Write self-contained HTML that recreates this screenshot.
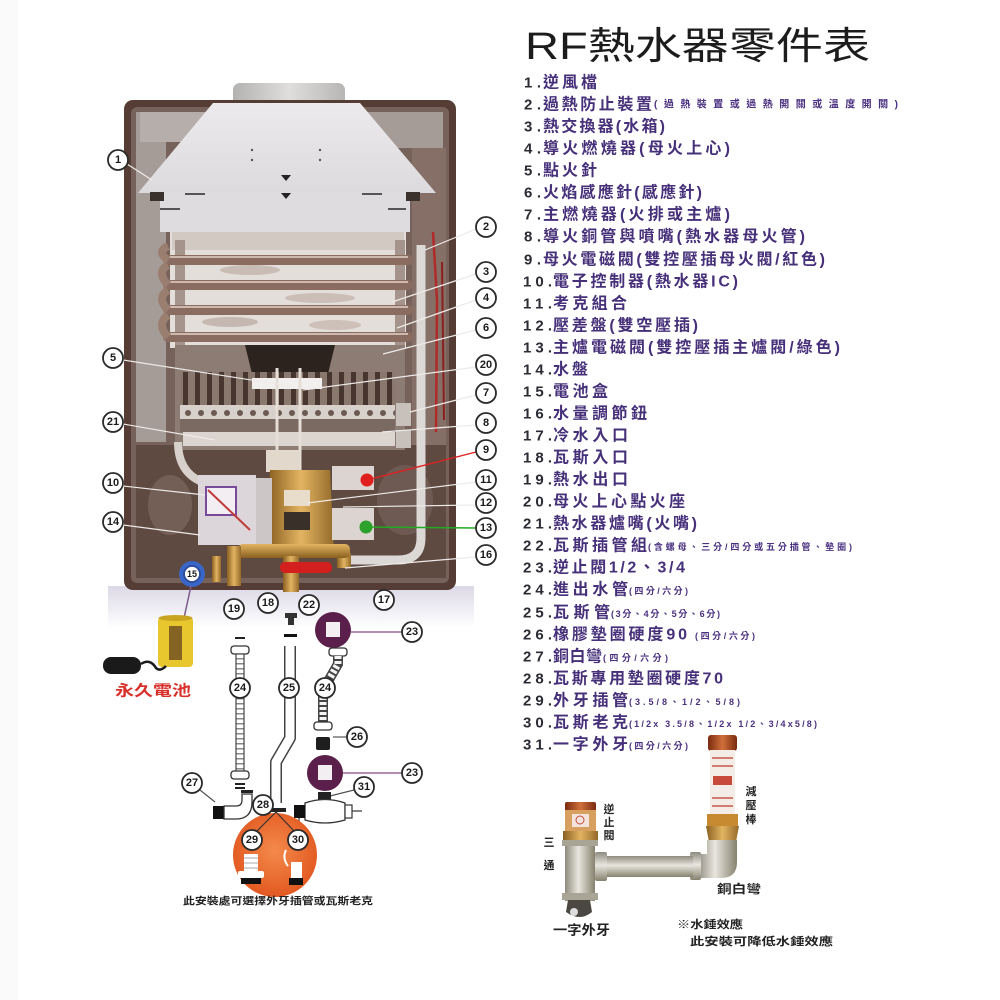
<!DOCTYPE html>
<html><head><meta charset="utf-8">
<style>
html,body{margin:0;padding:0;background:#fff;}
svg{display:block;}
.lb circle{fill:#fff;stroke:#2a2a2a;stroke-width:1.8;}
.lb text{font-family:"Liberation Sans",sans-serif;font-weight:bold;font-size:11px;text-anchor:middle;dominant-baseline:central;fill:#1a1a1a;}
.num{font-family:"Liberation Sans",sans-serif;font-weight:bold;font-size:15px;fill:#2b2b35;dominant-baseline:central;}
.mt{font-family:"Liberation Sans","Noto Sans CJK TC",sans-serif;font-weight:bold;font-size:16px;fill:#46307a;dominant-baseline:central;}
.st{font-family:"Liberation Sans","Noto Sans CJK TC",sans-serif;font-weight:bold;font-size:9px;fill:#4a3080;dominant-baseline:central;}
.cap{font-family:"Liberation Sans","Noto Sans CJK TC",sans-serif;font-weight:bold;fill:#222;dominant-baseline:central;}
.ln{stroke:#eeeae8;stroke-width:1.2;fill:none;}
</style></head>
<body>
<svg width="1000" height="1000" viewBox="0 0 1000 1000" xmlns="http://www.w3.org/2000/svg">
<defs>
<linearGradient id="hood" x1="0" y1="0" x2="0" y2="1"><stop offset="0" stop-color="#eceaec"/><stop offset="1" stop-color="#dcdadd"/></linearGradient>
<linearGradient id="chim" x1="0" y1="0" x2="1" y2="0"><stop offset="0" stop-color="#b4b2b0"/><stop offset="0.5" stop-color="#e0dedc"/><stop offset="1" stop-color="#b8b6b4"/></linearGradient>
<linearGradient id="band" x1="0" y1="0" x2="0" y2="1"><stop offset="0" stop-color="#dcd8e6"/><stop offset="1" stop-color="#ffffff"/></linearGradient>
<radialGradient id="org" cx="0.5" cy="0.45" r="0.6"><stop offset="0" stop-color="#f48a4c"/><stop offset="1" stop-color="#e0541c"/></radialGradient>
<linearGradient id="brass" x1="0" y1="0" x2="1" y2="0"><stop offset="0" stop-color="#8a6020"/><stop offset="0.5" stop-color="#e2b462"/><stop offset="1" stop-color="#946a2a"/></linearGradient>
<linearGradient id="brassv" x1="0" y1="0" x2="0" y2="1"><stop offset="0" stop-color="#e2b462"/><stop offset="1" stop-color="#8a6020"/></linearGradient>
<linearGradient id="silv" x1="0" y1="0" x2="0" y2="1"><stop offset="0" stop-color="#8e8a7e"/><stop offset="0.45" stop-color="#e8e6de"/><stop offset="1" stop-color="#86826f"/></linearGradient>
<linearGradient id="silvh" x1="0" y1="0" x2="1" y2="0"><stop offset="0" stop-color="#8e8a7e"/><stop offset="0.45" stop-color="#e8e6de"/><stop offset="1" stop-color="#86826f"/></linearGradient>
<linearGradient id="copper" x1="0" y1="0" x2="1" y2="0"><stop offset="0" stop-color="#7a2a10"/><stop offset="0.5" stop-color="#d0703a"/><stop offset="1" stop-color="#7a2a10"/></linearGradient>
<pattern id="fins" width="12" height="10" patternUnits="userSpaceOnUse"><rect width="12" height="10" fill="#8a786e"/><rect x="3" width="5" height="10" fill="#46362f"/></pattern>
<pattern id="noz" width="13" height="14" patternUnits="userSpaceOnUse"><rect width="13" height="14" fill="#d8d0cb"/><circle cx="6" cy="7" r="3" fill="#6a5a52"/></pattern>
<pattern id="rib" width="8" height="5" patternUnits="userSpaceOnUse"><rect width="8" height="5" fill="#fff"/><rect y="3" width="8" height="1.5" fill="#8a8a8a"/></pattern>
</defs>

<!-- faint left margin -->
<rect x="0" y="0" width="18" height="1000" fill="#fafafa"/>

<!-- band below body -->
<rect x="108" y="586" width="366" height="42" fill="url(#band)"/>

<!-- chimney -->
<rect x="233" y="83" width="112" height="26" rx="7" fill="url(#chim)"/>

<!-- body -->
<rect x="124" y="100" width="332" height="490" rx="9" fill="#553d35"/>
<rect x="131" y="107" width="318" height="476" rx="6" fill="#76625a"/>
<rect x="136" y="112" width="30" height="330" fill="#a69c97"/>
<rect x="140" y="112" width="70" height="30" fill="#b5aeab"/>
<rect x="365" y="112" width="78" height="36" fill="#a59c98"/>
<rect x="412" y="148" width="34" height="300" fill="#856f66"/>
<rect x="136" y="445" width="310" height="133" fill="#5f4a41"/>
<ellipse cx="170" cy="505" rx="22" ry="30" fill="#745f56"/>
<ellipse cx="405" cy="500" rx="28" ry="35" fill="#6e5a52"/>

<!-- heat exchanger -->
<rect x="170" y="230" width="236" height="118" fill="#e4deda"/>
<ellipse cx="250" cy="270" rx="30" ry="5" fill="#c8bcb4"/>
<ellipse cx="320" cy="298" rx="35" ry="5" fill="#cabeb6"/>
<ellipse cx="230" cy="322" rx="28" ry="5" fill="#c4b8b0"/>
<ellipse cx="335" cy="325" rx="26" ry="5" fill="#ccc0b8"/>
<rect x="172" y="232" width="232" height="18" fill="#d2c9c3"/>
<rect x="175" y="240" width="10" height="108" fill="#a4948b"/>
<rect x="395" y="240" width="10" height="108" fill="#a4948b"/>
<g fill="#8a6c60">
<rect x="163" y="255" width="250" height="10" rx="5"/>
<rect x="163" y="280" width="250" height="10" rx="5"/>
<rect x="163" y="305" width="250" height="10" rx="5"/>
<rect x="163" y="332" width="250" height="10" rx="5"/>
</g>
<g stroke="#cdb9ae" stroke-width="2">
<line x1="168" y1="257" x2="408" y2="257"/><line x1="168" y1="282" x2="408" y2="282"/>
<line x1="168" y1="307" x2="408" y2="307"/><line x1="168" y1="334" x2="408" y2="334"/>
</g>
<g fill="none" stroke="#9a7e70" stroke-width="8">
<path d="M168 246 Q156 252 168 260"/><path d="M168 265 Q156 272 168 285"/><path d="M168 290 Q156 298 168 310"/><path d="M168 315 Q156 324 168 337"/>
</g>

<!-- combustion / burner -->
<rect x="175" y="345" width="230" height="105" fill="#8c7c74"/>
<polygon points="245,345 335,345 327,378 253,378" fill="#2c221e"/>
<rect x="180" y="372" width="215" height="34" fill="url(#fins)"/>
<rect x="180" y="405" width="215" height="14" fill="url(#noz)"/>
<rect x="180" y="419" width="215" height="13" fill="#7a6a62"/>
<rect x="183" y="432" width="212" height="14" fill="#dbd4cf"/>
<rect x="396" y="403" width="15" height="23" fill="#c8c0bb"/>
<rect x="396" y="430" width="15" height="18" fill="#c8c0bb"/>
<rect x="252" y="378" width="70" height="11" fill="#f2f0ef"/>
<line x1="277" y1="368" x2="277" y2="470" stroke="#e6ded6" stroke-width="3"/>
<line x1="300" y1="368" x2="300" y2="470" stroke="#e6ded6" stroke-width="3"/>
<path d="M178 442 Q178 472 202 482" stroke="#d8d1cb" stroke-width="8" fill="none"/>

<!-- gas valve / controls -->
<rect x="266" y="450" width="34" height="22" fill="#e2d8cc"/>
<polygon points="270,470 330,470 334,552 268,552" fill="url(#brass)"/>
<rect x="284" y="490" width="26" height="16" fill="#e8dccb"/>
<rect x="284" y="512" width="26" height="18" fill="#3a302a"/>
<rect x="198" y="475" width="58" height="70" fill="#dcd6da"/>
<rect x="206" y="487" width="30" height="28" fill="#f2eef2" stroke="#7a4a9a" stroke-width="2"/>
<line x1="208" y1="490" x2="250" y2="530" stroke="#c03a3a" stroke-width="2"/>
<rect x="256" y="478" width="16" height="66" fill="#cdc6c6"/>
<rect x="332" y="466" width="42" height="24" fill="#dcd4d0"/>
<circle cx="367" cy="480" r="6.5" fill="#e01e1e"/>
<rect x="332" y="508" width="42" height="32" fill="#dcd4d0"/>
<circle cx="366" cy="527" r="6.5" fill="#2ea02e"/>
<path d="M421 245 L421 538 Q421 560 398 560 L345 560" stroke="#dcd8d5" stroke-width="9" fill="none"/>
<rect x="337" y="553" width="14" height="15" fill="url(#brass)"/>
<rect x="238" y="544" width="112" height="14" rx="5" fill="url(#brassv)"/>
<rect x="283" y="556" width="16" height="36" fill="url(#brass)"/>
<rect x="280" y="562" width="52" height="11" rx="5" fill="#d41f1f"/>
<rect x="227" y="546" width="14" height="40" fill="url(#brass)"/>
<rect x="212" y="556" width="9" height="26" fill="url(#brass)"/>
<path d="M433 232 L437 300 L436 432" stroke="#b02a2a" stroke-width="2.5" fill="none"/>
<path d="M442 262 L444 420" stroke="#8a2020" stroke-width="2" fill="none"/>

<!-- hood -->
<polygon points="213,103 360,103 436,193 138,193" fill="url(#hood)"/>
<rect x="160" y="192" width="250" height="40" fill="#dedcde"/>
<rect x="150" y="192" width="14" height="9" fill="#3a302c"/>
<rect x="406" y="192" width="14" height="9" fill="#3a302c"/>
<polygon points="281,175 291,175 286,181" fill="#222"/>
<polygon points="281,193 291,193 286,199" fill="#222"/>
<g fill="#555"><circle cx="252" cy="150" r="1.2"/><circle cx="252" cy="160" r="1.2"/><circle cx="320" cy="150" r="1.2"/><circle cx="320" cy="160" r="1.2"/>
<rect x="185" y="193" width="20" height="2"/><rect x="362" y="193" width="20" height="2"/><rect x="160" y="208" width="20" height="2"/><rect x="388" y="208" width="18" height="2"/></g>

<!-- blue battery cap 15 -->
<circle cx="192" cy="574" r="13" fill="#3a66c8"/>

<!-- leader lines (inside body: white) -->
<g class="ln">
<line x1="127" y1="164" x2="152" y2="180"/>
<line x1="123" y1="360" x2="290" y2="386"/>
<line x1="123" y1="424" x2="215" y2="440"/>
<line x1="123" y1="486" x2="205" y2="495"/>
<line x1="123" y1="525" x2="200" y2="535"/>
<line x1="476" y1="229" x2="425" y2="250"/>
<line x1="476" y1="274" x2="392" y2="302"/>
<line x1="476" y1="300" x2="397" y2="328"/>
<line x1="476" y1="330" x2="383" y2="354"/>
<line x1="476" y1="367" x2="303" y2="390"/>
<line x1="476" y1="395" x2="410" y2="412"/>
<line x1="476" y1="425" x2="382" y2="432"/>
<line x1="476" y1="482" x2="307" y2="503"/>
<line x1="476" y1="505" x2="343" y2="507"/>
<line x1="476" y1="557" x2="345" y2="568"/>
</g>
<line x1="476" y1="452" x2="367" y2="480" stroke="#d22" stroke-width="1.4"/>
<line x1="476" y1="528" x2="366" y2="527" stroke="#2a2" stroke-width="1.4"/>

<!-- labels on body -->
<g class="lb">
<circle cx="118" cy="160" r="10"/><text x="118" y="160">1</text>
<circle cx="113" cy="358" r="10"/><text x="113" y="358">5</text>
<circle cx="113" cy="422" r="10"/><text x="113" y="422">21</text>
<circle cx="113" cy="483" r="10"/><text x="113" y="483">10</text>
<circle cx="113" cy="522" r="10"/><text x="113" y="522">14</text>
<circle cx="486" cy="227" r="10"/><text x="486" y="227">2</text>
<circle cx="486" cy="272" r="10"/><text x="486" y="272">3</text>
<circle cx="486" cy="298" r="10"/><text x="486" y="298">4</text>
<circle cx="486" cy="328" r="10"/><text x="486" y="328">6</text>
<circle cx="486" cy="365" r="10"/><text x="486" y="365">20</text>
<circle cx="486" cy="393" r="10"/><text x="486" y="393">7</text>
<circle cx="486" cy="423" r="10"/><text x="486" y="423">8</text>
<circle cx="486" cy="450" r="10"/><text x="486" y="450">9</text>
<circle cx="486" cy="480" r="10"/><text x="486" y="480">11</text>
<circle cx="486" cy="503" r="10"/><text x="486" y="503">12</text>
<circle cx="486" cy="528" r="10"/><text x="486" y="528">13</text>
<circle cx="486" cy="555" r="10"/><text x="486" y="555">16</text>
<circle cx="192" cy="574" r="8" style="stroke:#2a4a9a"/><text x="192" y="574" style="font-size:9px">15</text>
<circle cx="234" cy="609" r="10"/><text x="234" y="609">19</text>
<circle cx="268" cy="603" r="10"/><text x="268" y="603">18</text>
<circle cx="309" cy="605" r="10"/><text x="309" y="605">22</text>
<circle cx="384" cy="600" r="10"/><text x="384" y="600">17</text>
</g>

<!-- battery & remote -->
<line x1="191" y1="586" x2="184" y2="618" stroke="#7a5a8a" stroke-width="1.5"/>
<rect x="158" y="617" width="35" height="50" rx="4" fill="#e8c62e"/>
<ellipse cx="175.5" cy="618" rx="17" ry="3" fill="#c9a420"/>
<rect x="169" y="626" width="13" height="34" fill="#6a4a20" opacity="0.8"/>
<rect x="103" y="657" width="38" height="17" rx="8" fill="#1a1a1a"/>
<path d="M141 664 Q150 658 156 668 Q160 672 166 666" stroke="#1a1a1a" stroke-width="2.5" fill="none"/>
<text x="153" y="691" class="cap" style="font-size:15px;fill:#d8302a;text-anchor:middle" textLength="76" lengthAdjust="spacingAndGlyphs">永久電池</text>

<!-- left pipe 24 -->
<rect x="235" y="637" width="10" height="2" fill="#222"/>
<rect x="231" y="646" width="18" height="8" rx="3" fill="#fff" stroke="#333" stroke-width="1.3"/>
<rect x="236" y="654" width="8" height="118" fill="url(#rib)" stroke="#444" stroke-width="1.2"/>
<rect x="231" y="771" width="18" height="8" rx="3" fill="#fff" stroke="#333" stroke-width="1.3"/>
<rect x="235" y="783" width="10" height="2" fill="#222"/>
<rect x="235" y="787" width="10" height="2" fill="#222"/>

<!-- middle pipe 25 -->
<rect x="285" y="613" width="12" height="5" fill="#333"/>
<rect x="288" y="617" width="6" height="8" fill="#333"/>
<rect x="284" y="634" width="13" height="3" fill="#111"/>
<path d="M290 646 L290 738 L276 762 L276 803" stroke="#444" stroke-width="12" fill="none" stroke-linejoin="round"/>
<path d="M290 646 L290 738 L276 762 L276 803" stroke="#fff" stroke-width="9" fill="none" stroke-linejoin="round"/>

<!-- right assembly -->
<circle cx="333" cy="630" r="18" fill="#5a1f4a"/>
<rect x="326" y="622" width="14" height="15" fill="#f2eef2"/>
<line x1="351" y1="632" x2="402" y2="632" stroke="#9a6a9a" stroke-width="1.5"/>
<rect x="329" y="648" width="18" height="8" rx="3" fill="#fff" stroke="#333" stroke-width="1.3"/>
<path d="M338 656 L338 664 L323 690 L323 722" stroke="#444" stroke-width="10" fill="none"/>
<path d="M338 656 L338 664 L323 690 L323 722" stroke="#f4f4f4" stroke-width="7" fill="none" stroke-dasharray="3,2"/>
<rect x="314" y="722" width="18" height="8" rx="3" fill="#fff" stroke="#333" stroke-width="1.3"/>
<rect x="316" y="737" width="14" height="13" rx="2" fill="#1e1e1e"/>
<line x1="333" y1="737" x2="348" y2="737" stroke="#555" stroke-width="1.2"/>
<circle cx="325" cy="773" r="18" fill="#5a1f4a"/>
<rect x="318" y="765" width="14" height="15" fill="#f2eef2"/>
<line x1="343" y1="773" x2="402" y2="773" stroke="#9a6a9a" stroke-width="1.5"/>
<line x1="354" y1="790" x2="330" y2="796" stroke="#555" stroke-width="1.2"/>
<rect x="318" y="792" width="13" height="9" fill="#222"/>
<path d="M305 803 Q325 796 345 803 L345 820 Q325 826 305 820 Z" fill="#fff" stroke="#333" stroke-width="1.3"/>
<rect x="345" y="805" width="7" height="13" fill="#fff" stroke="#333" stroke-width="1.2"/>
<line x1="352" y1="811" x2="362" y2="811" stroke="#333" stroke-width="1.2"/>
<rect x="294" y="805" width="11" height="13" fill="#111"/>
<line x1="299" y1="818" x2="299" y2="832" stroke="#333" stroke-width="1.2"/>

<!-- elbow 27 -->
<line x1="200" y1="790" x2="215" y2="802" stroke="#555" stroke-width="1.2"/>
<rect x="213" y="806" width="11" height="13" fill="#111"/>
<path d="M224 806 L236 806 Q242 806 242 800 L242 794 L252 794 L252 802 Q252 819 236 819 L224 819 Z" fill="#fff" stroke="#333" stroke-width="1.3"/>
<rect x="241" y="790" width="12" height="3" fill="#222"/>

<!-- 28 -->
<rect x="268" y="808" width="18" height="4" fill="#222"/>

<!-- orange circle -->
<circle cx="275" cy="855" r="42" fill="url(#org)"/>
<line x1="276" y1="812" x2="257" y2="831" stroke="#333" stroke-width="1.2"/>
<line x1="276" y1="812" x2="294" y2="831" stroke="#333" stroke-width="1.2"/>
<rect x="244" y="854" width="14" height="18" fill="#fff"/>
<g stroke="#aaa" stroke-width="1"><line x1="244" y1="858" x2="258" y2="858"/><line x1="244" y1="863" x2="258" y2="863"/><line x1="244" y1="868" x2="258" y2="868"/></g>
<rect x="238" y="871" width="26" height="7" rx="2" fill="#fff"/>
<rect x="241" y="878" width="20" height="6" fill="#111"/>
<path d="M286 850 Q282 858 288 866" stroke="#fff" stroke-width="2" fill="none"/>
<rect x="291" y="862" width="11" height="22" fill="#fff"/>
<rect x="289" y="878" width="14" height="7" fill="#111"/>

<g class="lb">
<circle cx="412" cy="632" r="10"/><text x="412" y="632">23</text>
<circle cx="412" cy="773" r="10"/><text x="412" y="773">23</text>
<circle cx="240" cy="688" r="10"/><text x="240" y="688">24</text>
<circle cx="289" cy="688" r="10"/><text x="289" y="688">25</text>
<circle cx="325" cy="688" r="10"/><text x="325" y="688">24</text>
<circle cx="357" cy="737" r="10"/><text x="357" y="737">26</text>
<circle cx="192" cy="783" r="10"/><text x="192" y="783">27</text>
<circle cx="263" cy="805" r="10"/><text x="263" y="805">28</text>
<circle cx="364" cy="787" r="10"/><text x="364" y="787">31</text>
<circle cx="252" cy="840" r="10"/><text x="252" y="840">29</text>
<circle cx="298" cy="840" r="10"/><text x="298" y="840">30</text>
</g>
<text x="183" y="902" class="cap" style="font-size:10px" textLength="190" lengthAdjust="spacingAndGlyphs">此安裝處可選擇外牙插管或瓦斯老克</text>

<!-- Title -->
<text x="525" y="47" style="font-family:'Liberation Sans','Noto Sans CJK TC',sans-serif;font-size:38px;fill:#1c1c1c;dominant-baseline:central" textLength="345" lengthAdjust="spacingAndGlyphs">RF熱水器零件表</text>

<!-- List -->
<g>
<text class="num" x="524" y="83" textLength="17">1.</text><text class="mt" x="543" y="83" textLength="54">逆風檔</text>
<text class="num" x="524" y="105" textLength="17">2.</text><text class="mt" x="543" y="105" textLength="109">過熱防止裝置</text><text class="st" x="654" y="105" style="font-size:10px" textLength="244">(過熱裝置或過熱開關或溫度開關)</text>
<text class="num" x="524" y="127" textLength="17">3.</text><text class="mt" x="543" y="127" textLength="122">熱交換器(水箱)</text>
<text class="num" x="524" y="149" textLength="17">4.</text><text class="mt" x="543" y="149" textLength="187">導火燃燒器(母火上心)</text>
<text class="num" x="524" y="171" textLength="17">5.</text><text class="mt" x="543" y="171" textLength="54">點火針</text>
<text class="num" x="524" y="193" textLength="17">6.</text><text class="mt" x="543" y="193" textLength="159">火焰感應針(感應針)</text>
<text class="num" x="524" y="215" textLength="17">7.</text><text class="mt" x="543" y="215" textLength="187">主燃燒器(火排或主爐)</text>
<text class="num" x="524" y="237" textLength="17">8.</text><text class="mt" x="543" y="237" textLength="262">導火銅管與噴嘴(熱水器母火管)</text>
<text class="num" x="524" y="260" textLength="17">9.</text><text class="mt" x="543" y="260" textLength="282">母火電磁閥(雙控壓插母火閥/紅色)</text>
<text class="num" x="523" y="282" textLength="29">10.</text><text class="mt" x="553" y="282" textLength="185">電子控制器(熱水器IC)</text>
<text class="num" x="523" y="304" textLength="29">11.</text><text class="mt" x="553" y="304" textLength="74">考克組合</text>
<text class="num" x="523" y="326" textLength="29">12.</text><text class="mt" x="553" y="326" textLength="145">壓差盤(雙空壓插)</text>
<text class="num" x="523" y="348" textLength="29">13.</text><text class="mt" x="553" y="348" textLength="287">主爐電磁閥(雙控壓插主爐閥/綠色)</text>
<text class="num" x="523" y="370" textLength="29">14.</text><text class="mt" x="553" y="370" textLength="35">水盤</text>
<text class="num" x="523" y="392" textLength="29">15.</text><text class="mt" x="553" y="392" textLength="55">電池盒</text>
<text class="num" x="523" y="414" textLength="29">16.</text><text class="mt" x="553" y="414" textLength="94">水量調節鈕</text>
<text class="num" x="523" y="436" textLength="29">17.</text><text class="mt" x="553" y="436" textLength="75">冷水入口</text>
<text class="num" x="523" y="458" textLength="29">18.</text><text class="mt" x="553" y="458" textLength="75">瓦斯入口</text>
<text class="num" x="523" y="480" textLength="29">19.</text><text class="mt" x="553" y="480" textLength="75">熱水出口</text>
<text class="num" x="523" y="502" textLength="29">20.</text><text class="mt" x="553" y="502" textLength="132">母火上心點火座</text>
<text class="num" x="523" y="524" textLength="29">21.</text><text class="mt" x="553" y="524" textLength="144">熱水器爐嘴(火嘴)</text>
<text class="num" x="523" y="546" textLength="29">22.</text><text class="mt" x="553" y="546" textLength="94">瓦斯插管組</text><text class="st" x="648" y="547" textLength="204">(含螺母、三分/四分或五分插管、墊圈)</text>
<text class="num" x="523" y="568" textLength="29">23.</text><text class="mt" x="553" y="568" textLength="132">逆止閥1/2、3/4</text>
<text class="num" x="523" y="590" textLength="29">24.</text><text class="mt" x="553" y="590" textLength="75">進出水管</text><text class="st" x="629" y="591" textLength="59">(四分/六分)</text>
<text class="num" x="523" y="613" textLength="29">25.</text><text class="mt" x="553" y="613" textLength="57">瓦斯管</text><text class="st" x="611" y="614" textLength="109">(3分、4分、5分、6分)</text>
<text class="num" x="523" y="635" textLength="29">26.</text><text class="mt" x="553" y="635" textLength="134">橡膠墊圈硬度90</text><text class="st" x="695" y="636" textLength="60">(四分/六分)</text>
<text class="num" x="523" y="657" textLength="29">27.</text><text class="mt" x="553" y="657" textLength="49">銅白彎</text><text class="st" x="603" y="658" textLength="65">(四分/六分)</text>
<text class="num" x="523" y="679" textLength="29">28.</text><text class="mt" x="553" y="679" textLength="170">瓦斯專用墊圈硬度70</text>
<text class="num" x="523" y="701" textLength="29">29.</text><text class="mt" x="553" y="701" textLength="75">外牙插管</text><text class="st" x="629" y="702" textLength="111">(3.5/8、1/2、5/8)</text>
<text class="num" x="523" y="723" textLength="29">30.</text><text class="mt" x="553" y="723" textLength="75">瓦斯老克</text><text class="st" x="629" y="724" textLength="188">(1/2x 3.5/8、1/2x 1/2、3/4x5/8)</text>
<text class="num" x="523" y="745" textLength="29">31.</text><text class="mt" x="553" y="745" textLength="75">一字外牙</text><text class="st" x="629" y="746" textLength="59">(四分/六分)</text>
</g>

<!-- bottom right fitting drawing -->
<rect x="708" y="735" width="29" height="16" rx="3" fill="url(#copper)"/>
<rect x="710" y="750" width="25" height="66" fill="#f4ece6"/>
<g stroke="#c03a2a" stroke-width="1.2"><line x1="712" y1="758" x2="733" y2="758"/><line x1="712" y1="766" x2="733" y2="766"/><line x1="712" y1="798" x2="733" y2="798"/><line x1="712" y1="806" x2="733" y2="806"/></g>
<rect x="713" y="776" width="19" height="9" fill="#c84a3a"/>
<rect x="707" y="814" width="31" height="12" fill="#c88a30"/>
<path d="M706 826 L739 826 L736 842 L709 842 Z" fill="url(#brass)"/>
<path d="M707 840 L737 840 L737 862 Q737 878 721 878 L697 878 L697 854 L707 854 Z" fill="url(#silvh)"/>
<rect x="690" y="852" width="11" height="28" rx="2" fill="url(#silv)"/>
<rect x="597" y="856" width="96" height="21" fill="url(#silv)"/>
<rect x="595" y="852" width="12" height="29" rx="2" fill="url(#silv)"/>
<rect x="565" y="802" width="31" height="9" rx="2" fill="url(#copper)"/>
<rect x="565" y="810" width="31" height="22" fill="#d8a060"/>
<rect x="572" y="814" width="17" height="13" fill="#f2e4dc"/>
<circle cx="580" cy="820" r="4" fill="none" stroke="#c05040" stroke-width="1"/>
<rect x="563" y="831" width="35" height="11" fill="url(#brass)"/>
<rect x="565" y="841" width="30" height="60" fill="url(#silvh)"/>
<rect x="562" y="840" width="36" height="6" fill="#a8a496"/>
<rect x="562" y="893" width="36" height="7" fill="#a8a496"/>
<path d="M568 900 L590 900 L592 912 Q580 922 566 912 Z" fill="#4a4840"/>
<circle cx="574" cy="912" r="4" fill="#ddd"/>
<g class="cap" style="font-size:11px;text-anchor:middle">
<text x="609" y="810">逆</text><text x="609" y="823">止</text><text x="609" y="836">閥</text>
<text x="549" y="843">三</text><text x="549" y="866">通</text>
<text x="751" y="792">減</text><text x="751" y="806">壓</text><text x="751" y="820">棒</text>
</g>
<text x="717" y="889" class="cap" style="font-size:12px" textLength="44" lengthAdjust="spacingAndGlyphs">銅白彎</text>
<text x="553" y="930" class="cap" style="font-size:13px" textLength="57" lengthAdjust="spacingAndGlyphs">一字外牙</text>
<text x="677" y="925" class="cap" style="font-size:11px" textLength="66" lengthAdjust="spacingAndGlyphs">※水錘效應</text>
<text x="690" y="942" class="cap" style="font-size:11px" textLength="143" lengthAdjust="spacingAndGlyphs">此安裝可降低水錘效應</text>
</svg>
</body></html>
